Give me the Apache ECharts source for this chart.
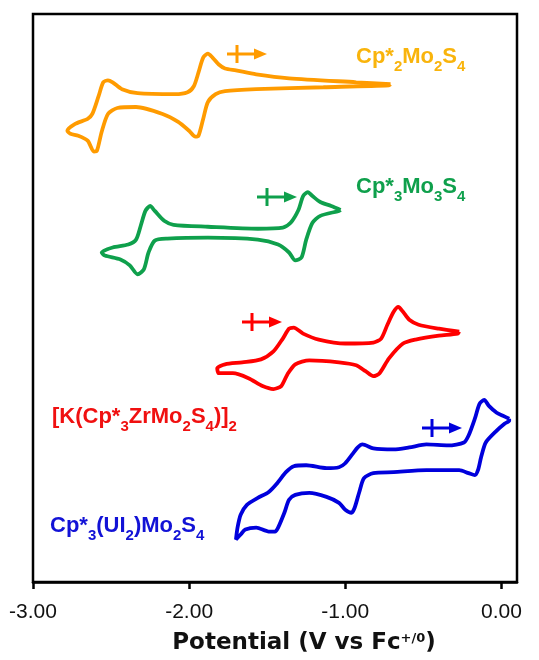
<!DOCTYPE html>
<html>
<head>
<meta charset="utf-8">
<script src="https://cdn.jsdelivr.net/npm/echarts@6/dist/echarts.min.js"></script>
<style>
  html, body { margin: 0; padding: 0; background: #fff; }
  #cv { width: 539px; height: 660px; }
</style>
</head>
<body>
<div id="cv"></div>
<script>
// cyclic voltammograms, potential in V vs Fc+/0, current in arb. units (offset per trace)

// x axis tick labels
var tickValues = [-3, -2, -1, 0];

// Cp*2Mo2S4
var orangeV = [-0.71, -0.93, -1.36, -1.57, -1.70, -1.77, -1.81, -1.85, -1.88, -1.91, -1.94, -1.97, -2.01, -2.09, -2.33, -2.43,
  -2.49, -2.52, -2.55, -2.58, -2.62, -2.65, -2.73, -2.78, -2.76, -2.71, -2.65, -2.61, -2.59, -2.56, -2.52, -2.46,
  -2.34, -2.17, -2.07, -2.00, -1.96, -1.94, -1.91, -1.88, -1.83, -1.77, -1.57, -1.14, -0.72, -0.71];
var orangeI = [503, 505, 509, 513, 517, 519, 523, 530, 534, 530, 515, 501, 495, 493, 494, 498,
  505, 507, 505, 491, 473, 468, 463, 456, 453, 451, 446, 435, 436, 455, 473, 479,
  480, 473, 465, 456, 450, 451, 468, 485, 493, 496, 498, 500, 502, 503];

// Cp*3Mo3S4
var greenV = [-1.03, -1.09, -1.16, -1.21, -1.24, -1.27, -1.30, -1.35, -1.40, -1.56, -1.88, -2.10, -2.16, -2.22, -2.25, -2.28,
  -2.31, -2.34, -2.39, -2.49, -2.56, -2.54, -2.44, -2.38, -2.33, -2.29, -2.26, -2.22, -2.14, -1.88, -1.56, -1.43,
  -1.36, -1.32, -1.28, -1.25, -1.21, -1.16, -1.04, -1.03];
var greenI = [376, 380, 384, 390, 394, 390, 376, 363, 358, 357, 359, 361, 365, 375, 380, 375,
  360, 346, 341, 338, 333, 330, 326, 320, 311, 316, 333, 345, 347, 348, 346, 341,
  333, 325, 328, 346, 363, 370, 375, 376];

// [K(Cp*3ZrMo2S4)]2
var redV = [-0.27, -0.40, -0.53, -0.59, -0.63, -0.66, -0.69, -0.73, -0.77, -0.82, -1.00, -1.17, -1.27, -1.33, -1.36, -1.40,
  -1.46, -1.54, -1.66, -1.77, -1.82, -1.81, -1.72, -1.62, -1.53, -1.46, -1.41, -1.37, -1.32, -1.23, -1.04, -0.93,
  -0.87, -0.82, -0.78, -0.72, -0.63, -0.55, -0.40, -0.28, -0.27];
var redI = [253, 256, 260, 265, 273, 278, 273, 260, 246, 242, 241, 245, 251, 257, 256, 246,
  233, 225, 222, 220, 216, 211, 211, 206, 198, 195, 198, 210, 220, 224, 222, 219,
  213, 208, 211, 226, 241, 245, 249, 251, 253];

// Cp*3(UI2)Mo2S4
var blueV = [0.05, 0.01, -0.03, -0.08, -0.11, -0.14, -0.17, -0.21, -0.24, -0.34, -0.48, -0.59, -0.69, -0.82, -0.89, -0.92,
  -0.95, -1.00, -1.04, -1.12, -1.25, -1.33, -1.38, -1.43, -1.49, -1.56, -1.63, -1.67, -1.69, -1.70, -1.67, -1.64,
  -1.57, -1.49, -1.45, -1.43, -1.39, -1.36, -1.32, -1.23, -1.12, -1.04, -1.00, -0.96, -0.94, -0.91, -0.88, -0.82,
  -0.69, -0.48, -0.27, -0.21, -0.17, -0.15, -0.13, -0.10, -0.03, 0.02, 0.05, 0.05];
var blueI = [165, 168, 171, 178, 184, 180, 165, 148, 141, 138, 139, 136, 134, 135, 139, 136,
  130, 120, 116, 115, 118, 117, 111, 101, 91, 85, 78, 68, 55, 43, 48, 53,
  55, 51, 51, 55, 70, 83, 88, 90, 86, 80, 73, 70, 75, 91, 105, 110,
  111, 113, 113, 110, 108, 113, 126, 141, 153, 160, 163, 165];

var colors = { orange: '#FF9B00', green: '#0FA04C', red: '#FF0000', blue: '#0000DC' };
var labelColors = { orange: '#F9B40C', green: '#0FA04C', red: '#F01010', blue: '#1212D6' };

function zip(xs, ys) {
  var out = [];
  for (var i = 0; i < xs.length; i++) out.push([xs[i], ys[i]]);
  return out;
}

function cvSeries(name, xs, ys, color) {
  return {
    name: name,
    type: 'line',
    data: zip(xs, ys),
    showSymbol: false,
    smooth: 0.25,
    lineStyle: { color: color, width: 3.8 },
    silent: true,
    z: 3
  };
}

// "+ ->" start / scan direction marks
function arrow(x, y, color) {
  return {
    type: 'group',
    children: [
      { type: 'line', shape: { x1: x, y1: y - 9, x2: x, y2: y + 9 }, style: { stroke: color, lineWidth: 3 } },
      { type: 'line', shape: { x1: x - 10, y1: y, x2: x + 20, y2: y }, style: { stroke: color, lineWidth: 3 } },
      { type: 'polygon', shape: { points: [[x + 17, y - 5.5], [x + 30, y], [x + 17, y + 5.5]] }, style: { fill: color } }
    ]
  };
}

function formula(x, y, parts, color) {
  var txt = parts.map(function (p) { return '{' + p[0] + '|' + p[1] + '}'; }).join('');
  return {
    type: 'text',
    left: x,
    top: y,
    style: {
      text: txt,
      rich: {
        m: { fontSize: 22, fontWeight: 'bold', fontFamily: 'Liberation Sans', fill: color, lineHeight: 26, verticalAlign: 'bottom' },
        s: { fontSize: 15, fontWeight: 'bold', fontFamily: 'Liberation Sans', fill: color, lineHeight: 26, verticalAlign: 'bottom', padding: [0, 0, -6, 0] }
      }
    }
  };
}

var chart = echarts.init(document.getElementById('cv'));

var option = {
  animation: false,
  backgroundColor: '#fff',
  grid: { left: 33, right: 22, top: 14, bottom: 72, show: true, borderColor: '#000', borderWidth: 2.5 },
  xAxis: {
    type: 'value',
    min: -3,
    max: 0.1,
    interval: 1,
    axisLine: { show: true, lineStyle: { color: '#000', width: 2.5 } },
    axisTick: { show: true, inside: false, length: 7, lineStyle: { color: '#000', width: 2.5 }, customValues: tickValues },
    splitLine: { show: false },
    axisLabel: {
      customValues: tickValues,
      margin: 20,
      color: '#111',
      fontSize: 21,
      fontFamily: 'Liberation Sans',
      formatter: function (v) { return v.toFixed(2); }
    },
    name: '{b|Potential (V vs Fc}{sup|+/0}{b|)}',
    nameLocation: 'middle',
    nameGap: 47,
    nameTextStyle: {
      padding: [0, 0, 0, 58],
      rich: {
        b: { fontSize: 23, fontWeight: 'bold', fontFamily: 'DejaVu Sans', color: '#111', lineHeight: 26, verticalAlign: 'bottom' },
        sup: { fontSize: 13, fontWeight: 'bold', fontFamily: 'DejaVu Sans', color: '#111', lineHeight: 26, verticalAlign: 'bottom', padding: [0, 0, 10, 0] }
      }
    }
  },
  yAxis: {
    type: 'value',
    min: 0,
    max: 574,
    show: false
  },
  series: [
    cvSeries('Cp*2Mo2S4', orangeV, orangeI, colors.orange),
    cvSeries('Cp*3Mo3S4', greenV, greenI, colors.green),
    cvSeries('[K(Cp*3ZrMo2S4)]2', redV, redI, colors.red),
    cvSeries('Cp*3(UI2)Mo2S4', blueV, blueI, colors.blue)
  ],
  graphic: [
    arrow(237, 54, colors.orange),
    arrow(267, 197, colors.green),
    arrow(252, 322, colors.red),
    arrow(432, 428, colors.blue),
    formula(356, 46, [['m', 'Cp*'], ['s', '2'], ['m', 'Mo'], ['s', '2'], ['m', 'S'], ['s', '4']], labelColors.orange),
    formula(356, 176, [['m', 'Cp*'], ['s', '3'], ['m', 'Mo'], ['s', '3'], ['m', 'S'], ['s', '4']], labelColors.green),
    formula(52, 406, [['m', '[K(Cp*'], ['s', '3'], ['m', 'ZrMo'], ['s', '2'], ['m', 'S'], ['s', '4'], ['m', ')]'], ['s', '2']], labelColors.red),
    formula(50, 515, [['m', 'Cp*'], ['s', '3'], ['m', '(UI'], ['s', '2'], ['m', ')Mo'], ['s', '2'], ['m', 'S'], ['s', '4']], labelColors.blue)
  ]
};

chart.setOption(option);
</script>
</body>
</html>
